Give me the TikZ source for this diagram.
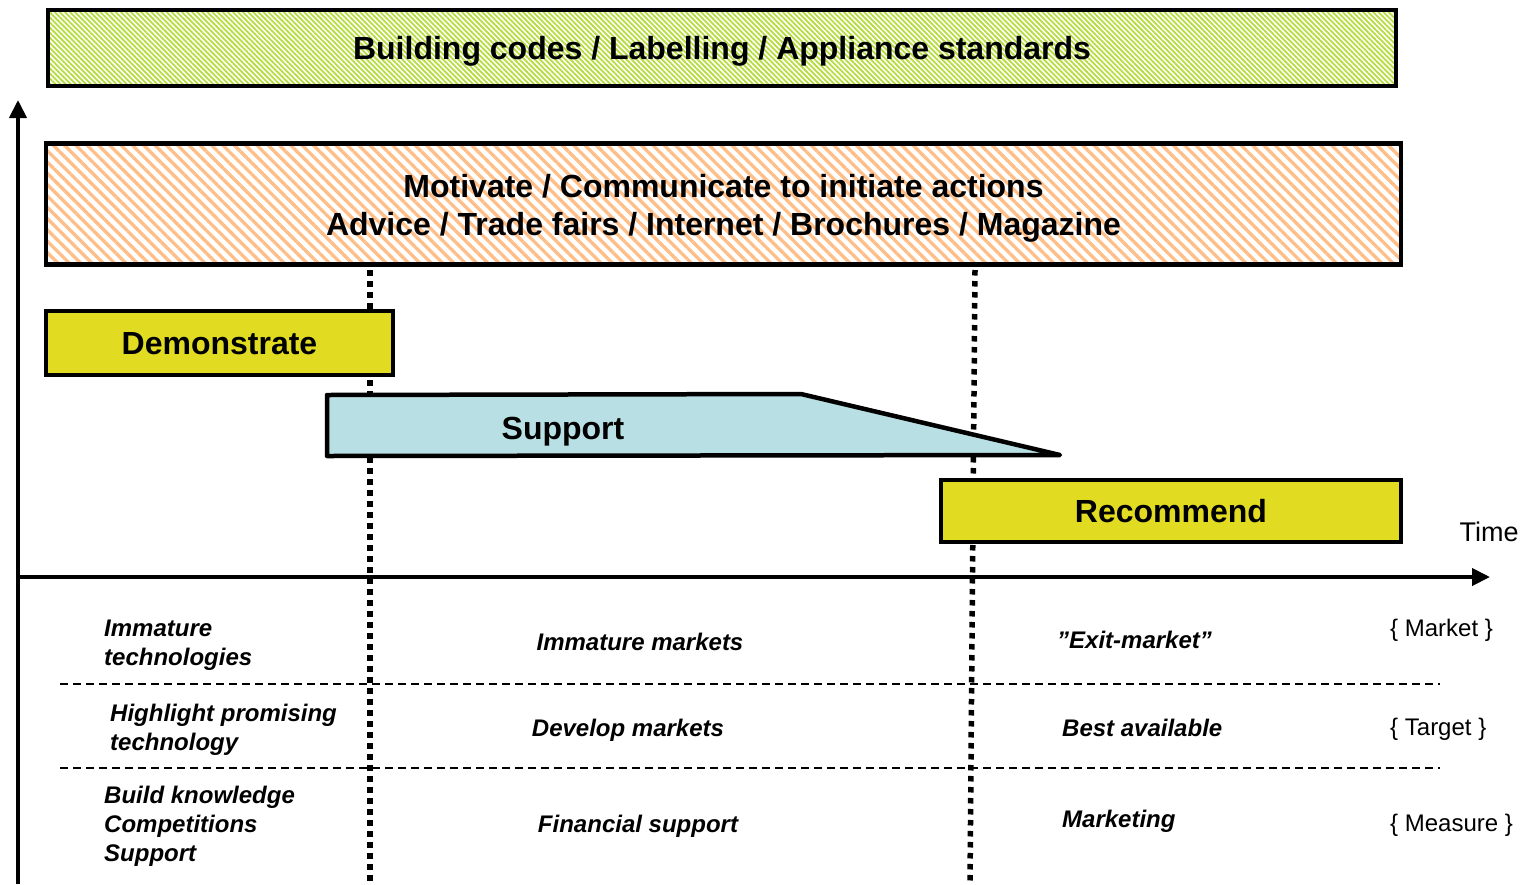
\documentclass[tikz,border=0pt]{standalone}
\usepackage{fontspec}
\setmainfont{Liberation Sans}
\usetikzlibrary{patterns.meta,arrows.meta}
\definecolor{boxyellow}{RGB}{225,220,33}
\definecolor{supblue}{RGB}{184,224,228}
\definecolor{hatchgreen}{RGB}{182,220,64}
\definecolor{hatchorange}{RGB}{255,190,135}
\begin{document}
\begin{tikzpicture}[x=1pt,y=-1pt,
  bigbox/.style={draw=black,line width=4.5pt,inner sep=0pt,align=center,
    text height=23pt,text depth=0pt,
    font=\fontsize{32}{38}\selectfont\bfseries},
  lbl/.style={inner sep=0pt,font=\fontsize{32}{38}\selectfont\bfseries},
  itl/.style={inner sep=0pt,align=left,font=\fontsize{24}{28.7}\selectfont\bfseries\itshape},
  plain/.style={inner sep=0pt,font=\fontsize{24}{28.7}\selectfont},
  axis/.style={line width=4pt,-{Triangle[length=18pt,width=17pt]}},
  dotline/.style={line width=5.5pt,dash pattern=on 5.5pt off 5.5pt},
  sepline/.style={line width=1.3pt,dash pattern=on 8pt off 5pt}]
\useasboundingbox (0,0) rectangle (1528,884);

% dotted phase separators
\coordinate (d1t) at (370,270);
\coordinate (d1b) at (370,884);
\coordinate (d2t) at (975,270);
\coordinate (d2b) at (970,884);
\draw[dotline] (d1t) -- (d1b);
\draw[dotline] (d2t) -- (d2b);

% dashed row separators
\coordinate (s1a) at (60,684);
\coordinate (s1b) at (1440,684);
\coordinate (s2a) at (60,768);
\coordinate (s2b) at (1440,768);
\draw[sepline] (s1a) -- (s1b);
\draw[sepline] (s2a) -- (s2b);

% axes
\coordinate (ybot) at (18,884);
\coordinate (ytip) at (18,100);
\coordinate (xorig) at (18,577);
\coordinate (xtip) at (1490,577);
\draw[axis] (ybot) -- (ytip);
\draw[axis] (xorig) -- (xtip);

% boxes
\node[bigbox,minimum width=1348pt,minimum height=76pt,
  pattern={Lines[angle=-45,distance=3.6pt,line width=1.8pt]},pattern color=hatchgreen]
  (codes) at (722,48) {Building codes / Labelling / Appliance standards};
\node[draw=black,line width=4.5pt,inner sep=0pt,minimum width=1355pt,minimum height=121pt,
  pattern={Lines[angle=-45,distance=8pt,line width=3.3pt]},pattern color=hatchorange]
  (motiv) at (723.5,204) {};
\node[lbl,align=center] (motivtxt) at (723.5,208)
  {Motivate / Communicate to initiate actions\\Advice / Trade fairs / Internet / Brochures / Magazine};
\node[bigbox,fill=boxyellow,minimum width=347pt,minimum height=64pt]
  (demo) at (219.5,343) {Demonstrate};
\node[bigbox,fill=boxyellow,minimum width=460pt,minimum height=62pt]
  (recom) at (1171,511) {Recommend};

% support wedge
\coordinate (sp1) at (327,395);
\coordinate (sp2) at (801,394);
\coordinate (sp3) at (1060,455);
\coordinate (sp4) at (327,456);
\draw[line width=4.5pt,fill=supblue,line join=round] (sp1) -- (sp2) -- (sp3) -- (sp4) -- cycle;
\node[lbl,text height=23pt,text depth=0pt] (support) at (563,428) {Support};

\node[inner sep=0pt,font=\fontsize{27}{32}\selectfont] (time) at (1489,532) {Time};

% row 1
\node[itl,anchor=base west] (r1c1) at (104,665) {Immature\\technologies};
\node[itl,anchor=base] (r1c2) at (640,650) {Immature markets};
\node[itl,anchor=base west] (r1c3) at (1057,648) {”Exit-market”};
\node[plain,anchor=base west] (r1c4) at (1390,636) {\{ Market \}};
% row 2
\node[itl,anchor=base west] (r2c1) at (110,750) {Highlight promising\\technology};
\node[itl,anchor=base] (r2c2) at (628,736) {Develop markets};
\node[itl,anchor=base west] (r2c3) at (1062,736) {Best available};
\node[plain,anchor=base west] (r2c4) at (1390,735) {\{ Target \}};
% row 3
\node[itl,anchor=base west] (r3c1) at (104,861) {Build knowledge\\Competitions\\Support};
\node[itl,anchor=base] (r3c2) at (638,832) {Financial support};
\node[itl,anchor=base west] (r3c3) at (1062,827) {Marketing};
\node[plain,anchor=base west] (r3c4) at (1390,831) {\{ Measure \}};
\end{tikzpicture}
\end{document}
